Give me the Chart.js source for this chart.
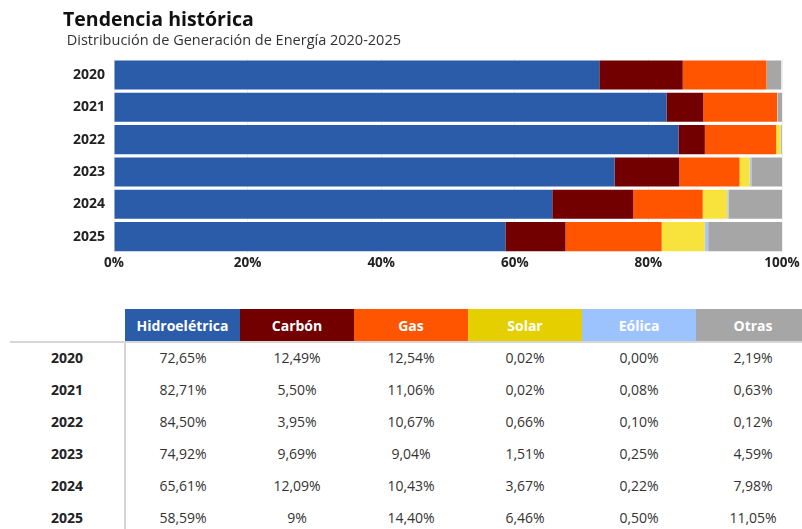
<!DOCTYPE html>
<html lang="es">
<head>
<meta charset="utf-8">
<script src="https://cdn.jsdelivr.net/npm/chart.js@4.4.0/dist/chart.umd.min.js"></script>
<style>
  body { margin: 0; width: 802px; height: 529px; overflow: hidden; background: #fff; font-family: "Open Sans", sans-serif; }
  #chartBox { position: absolute; left: 0; top: 0; width: 802px; height: 275px; }
  #tabla { position: absolute; left: 10px; top: 309px; border-collapse: collapse; table-layout: fixed; }
  #tabla th, #tabla td { width: 114px; min-width: 114px; max-width: 114px; padding: 0; text-align: center; font-size: 14px; }
  #tabla th { height: 32px; color: #fff; font-weight: 700; }
  #tabla td { height: 28px; padding-bottom: 4px; color: #333; }
  #tabla tbody tr:first-child td { border-top: 2px solid #d6d6d6; }
  #tabla td.anio { font-weight: 700; color: #222; border-right: 2px solid #d6d6d6; }
</style>
</head>
<body>
<div id="chartBox"><canvas id="myChart"></canvas></div>
<table id="tabla"><thead><tr id="cabecera"></tr></thead><tbody id="cuerpo"></tbody></table>
<script>
const anios = ["2020", "2021", "2022", "2023", "2024", "2025"];
const fuentes = ["Hidroelétrica", "Carbón", "Gas", "Solar", "Eólica", "Otras"];

// porcentajes por año
const hidro   = [72.65, 82.71, 84.50, 74.92, 65.61, 58.59];
const carbon  = [12.49, 5.50, 3.95, 9.69, 12.09, 9];
const gas     = [12.54, 11.06, 10.67, 9.04, 10.43, 14.40];
const solar   = [0.02, 0.02, 0.66, 1.51, 3.67, 6.46];
const eolica  = [0.00, 0.08, 0.10, 0.25, 0.22, 0.50];
const otras   = [2.19, 0.63, 0.12, 4.59, 7.98, 11.05];

const xTicks = [0, 20, 40, 60, 80, 100];

const series = [hidro, carbon, gas, solar, eolica, otras];
const barColors = ["#2a5caa", "#720000", "#ff5500", "#f8e33c", "#a8c6f7", "#a6a6a6"];
const headColors = ["#2a5caa", "#720000", "#ff5500", "#e6cf00", "#9dc3ff", "#a6a6a6"];

const fmt = v => (Number.isInteger(v) && v !== 0) ? v + "%" : v.toFixed(2).replace(".", ",") + "%";

var ctx = document.getElementById('myChart').getContext('2d');
var chart = new Chart(ctx, {
    type: 'bar',
    data: {
        labels: anios,
        datasets: fuentes.map((f, i) => ({
            label: f,
            data: series[i],
            backgroundColor: barColors[i],
            borderWidth: 0,
            barPercentage: 0.9,
            categoryPercentage: 1
        }))
    },
    options: {
        indexAxis: 'y',
        responsive: true,
        maintainAspectRatio: false,
        animation: false,
        layout: { padding: { left: 63, right: 20, top: 9, bottom: 2 } },
        plugins: {
            legend: { display: false },
            tooltip: { enabled: false },
            title: {
                display: true,
                text: 'Tendencia histórica',
                align: 'start',
                color: '#111',
                font: { family: 'Open Sans', size: 19.5, weight: 'bold' },
                padding: { top: 0, bottom: 0 }
            },
            subtitle: {
                display: true,
                text: ' Distribución de Generación de Energía 2020-2025',
                align: 'start',
                color: '#333',
                font: { family: 'Open Sans', size: 14.5 },
                padding: { top: 0, bottom: 9 }
            }
        },
        scales: {
            x: {
                stacked: true,
                min: 0,
                max: 100,
                afterBuildTicks: s => { s.ticks = xTicks.map(v => ({ value: v })); },
                ticks: {
                    callback: v => v + '%',
                    color: '#222',
                    font: { family: 'Open Sans', size: 13.5, weight: 'bold' },
                    padding: 2
                },
                grid: { color: '#f0f0f0', drawTicks: false },
                border: { display: false }
            },
            y: {
                stacked: true,
                afterFit: s => { s.width = 51; },
                ticks: {
                    color: '#222',
                    font: { family: 'Open Sans', size: 14, weight: 'bold' },
                    padding: 9
                },
                grid: { display: false, drawTicks: false },
                border: { display: false }
            }
        }
    }
});

// tabla de valores debajo del gráfico
const cabecera = document.getElementById('cabecera');
cabecera.appendChild(document.createElement('th'));
fuentes.forEach((f, i) => {
    const th = document.createElement('th');
    th.textContent = f;
    th.style.background = headColors[i];
    cabecera.appendChild(th);
});
const cuerpo = document.getElementById('cuerpo');
anios.forEach((a, r) => {
    const tr = document.createElement('tr');
    const td = document.createElement('td');
    td.className = 'anio';
    td.textContent = a;
    tr.appendChild(td);
    series.forEach(s => {
        const c = document.createElement('td');
        c.textContent = fmt(s[r]);
        tr.appendChild(c);
    });
    cuerpo.appendChild(tr);
});
</script>
</body>
</html>
